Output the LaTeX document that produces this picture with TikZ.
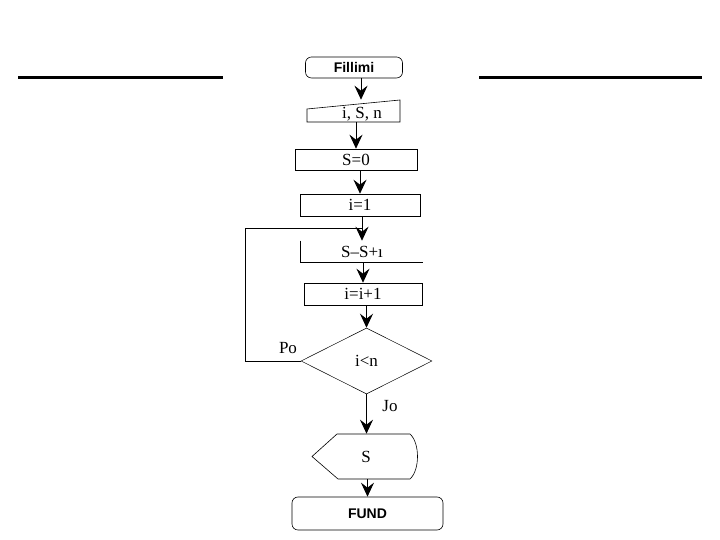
\documentclass[tikz,border=0pt]{standalone}
\usepackage{fontspec}
\setmainfont{Liberation Serif}
\setsansfont{Liberation Sans}
\usetikzlibrary{arrows.meta, shapes.geometric, calc}

\tikzset{
  arr/.style={-{Stealth[length=14pt, width=13pt, inset=5pt]}, line width=0.8pt},
  term/.style={draw, rounded corners=6pt, font=\fontsize{14}{16}\sffamily\bfseries, inner sep=0pt},
  procbox/.style={draw, font=\fontsize{17}{19}\selectfont, inner sep=0pt},
  txt/.style={font=\fontsize{17}{19}\selectfont, inner sep=0pt}
}

\begin{document}
\begin{tikzpicture}[x=1pt, y=1pt, line width=0.6pt]
  \useasboundingbox (0,0) rectangle (720,540);
  % side rules
  \draw[line width=3pt] (18,462) -- (223,462);
  \draw[line width=3pt] (479,462) -- (702,462);
  % nodes
  \node[term, minimum width=97pt, minimum height=21pt] (start) at (354,472.5) {Fillimi};
  \node[txt, minimum width=93pt, minimum height=22pt] (input) at (361,429) {};
  \node[txt] (inputtext) at (362,426) {i, S, n};
  \draw (307,418) -- (307,431) -- (400,440) -- (400,418) -- cycle;
  \node[procbox, minimum width=122pt, minimum height=21pt] (szero) at (356,380.5) {S=0};
  \node[procbox, minimum width=120pt, minimum height=22pt] (ione) at (360,335) {i=1};
  \node[txt, minimum width=122pt, minimum height=21pt] (sum) at (362,288.5) {S--S+\i};
  \draw (sum.north west) -- (sum.south west) -- (sum.south east);
  \node[procbox, minimum width=118pt, minimum height=22pt] (inc) at (363,246) {i=i+1};
  \node[draw, diamond, aspect=2, minimum width=131pt, minimum height=66pt, inner sep=0pt,
        line width=0.5pt, font=\fontsize{17}{19}\selectfont] (cond) at (366.5,179) {i<n};
  \node[txt, minimum width=105pt, minimum height=45pt] (output) at (366,83.5) {S};
  \draw (337,106) -- (410,106) .. controls (420,97) and (420,70) .. (410,61)
        -- (338,61) -- (312,83.5) -- cycle;
  \node[term, minimum width=151pt, minimum height=33pt] (stop) at (367.5,26.5) {FUND};
  \node[txt] (po) at (288,192) {Po};
  \node[txt] (jo) at (390,134) {Jo};
  % connectors
  \draw[arr] (start.south -| input) -- (input.north);
  \draw[arr] (input.south -| szero) -- (szero.north);
  \draw[arr] (szero.south -| ione) -- (ione.north);
  \draw[arr] (ione.south -| sum) -- (sum.north);
  \draw[arr] (sum.south -| inc) -- (inc.north);
  \draw[arr] (inc.south -| cond) -- (cond.north);
  \draw[arr] (cond.south) -- (cond.south |- output.north);
  \draw[arr] (output.south -| stop) -- (stop.north);
  \draw (cond.west) -| (245,312) -- (sum.north |- 0,312);
\end{tikzpicture}
\end{document}
